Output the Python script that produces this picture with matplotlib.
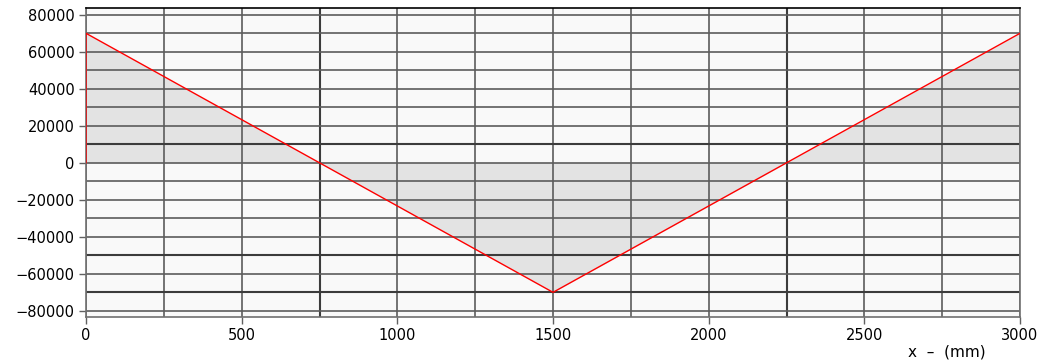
import numpy as np
import matplotlib
matplotlib.use('Agg')
import matplotlib.pyplot as plt

# bending moment diagram
x_pts = [0, 0, 1500, 3000]
m_pts = [0, 70000, -70000, 70000]

x_ticks = [0, 500, 1000, 1500, 2000, 2500, 3000]
y_ticks = [-80000, -60000, -40000, -20000, 0, 20000, 40000, 60000, 80000]
x_grid = np.arange(0, 3001, 250)
y_grid = np.arange(-80000, 80001, 10000)
x_strong = [750, 2250]
y_strong = [10000, -50000, -70000]

fig = plt.figure(figsize=(10.46, 3.61), dpi=100)
ax = fig.add_axes([0.0822, 0.121, 0.893, 0.856])
ax.set_facecolor('#f9f9f9')

for gx in x_grid:
    if gx in x_strong:
        ax.axvline(gx, color='#3c3c3c', lw=1.5, zorder=1)
    else:
        ax.axvline(gx, color='#5c5c5c', lw=1.2, zorder=1)
for gy in y_grid:
    if gy in y_strong:
        ax.axhline(gy, color='#3c3c3c', lw=1.5, zorder=1)
    else:
        ax.axhline(gy, color='#5c5c5c', lw=1.2, zorder=1)

ax.fill_between(x_pts, m_pts, 0, color='#e3e3e3', lw=0, zorder=0.5)
ax.plot(x_pts, m_pts, color='red', lw=1.0, zorder=3)

ax.set_xlim(0, 3000)
ax.set_ylim(-83500, 83500)
ax.set_xticks(x_ticks)
ax.set_yticks(y_ticks)
ax.tick_params(axis='both', length=5, width=1, color='#606060',
               labelsize=10.5, labelcolor='black', pad=3)

for side in ['left', 'right', 'bottom']:
    ax.spines[side].set_color('#707070')
    ax.spines[side].set_linewidth(1.2)
ax.spines['top'].set_color('black')
ax.spines['top'].set_linewidth(1.2)

fig.text(0.905, 0.025, 'x  \u2013  (mm)', fontsize=11, ha='center', va='center')

fig.savefig('out.png', dpi=100)
